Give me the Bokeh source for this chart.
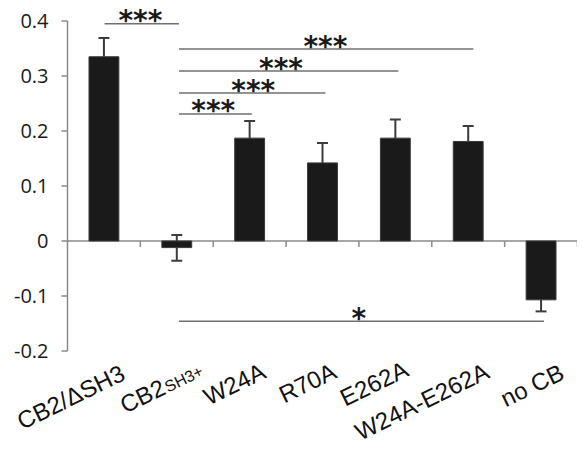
import math
from bokeh.plotting import figure
from bokeh.models import Range1d, ColumnDataSource
from bokeh.core.properties import value
from bokeh.embed import file_html
from bokeh.resources import INLINE

# ---- data ----
categories = ["CB2/ΔSH3", "CB2SH3+", "W24A", "R70A", "E262A", "W24A-E262A", "no CB"]
label_main = ["CB2/ΔSH3", "CB2", "W24A", "R70A", "E262A", "W24A-E262A", "no CB"]
label_small = ["", "SH3+", "", "", "", "", ""]
means = [0.335, -0.012, 0.187, 0.142, 0.187, 0.181, -0.107]
err_up = [0.034, 0.023, 0.031, 0.036, 0.034, 0.028, 0.0]
err_down = [0.0, 0.024, 0.0, 0.0, 0.0, 0.0, 0.021]
y_ticks = [-0.2, -0.1, 0.0, 0.1, 0.2, 0.3, 0.4]
y_tick_labels = ["-0.2", "-0.1", "0", "0.1", "0.2", "0.3", "0.4"]

sig_x0 = [0.51, 1.53, 1.53, 1.53, 1.53, 1.53]
sig_x1 = [1.53, 5.57, 4.54, 3.54, 2.53, 6.54]
sig_y = [0.395, 0.349, 0.309, 0.269, 0.231, -0.146]
sig_text = ["***", "***", "***", "***", "***", "*"]
sig_text_x = [1.0, 3.54, 2.93, 2.55, 2.0, 4.0]

# ---- layout ----
n = len(categories)
centers = [i + 0.5 for i in range(n)]
W, H = 577, 442
LEFT = 67                      # px position of the value axis
px_x = (W - LEFT) / n
XL = -LEFT / px_x
Y0, Y1 = -0.3664, 0.4373
px_y = H / (Y1 - Y0)

p = figure(width=W, height=H, x_range=Range1d(XL, n), y_range=Range1d(Y0, Y1),
           output_backend="svg", toolbar_location=None,
           x_axis_location=None, y_axis_location=None,
           min_border_left=0, min_border_right=0, min_border_top=0, min_border_bottom=0)
p.grid.visible = False
p.outline_line_color = None
p.background_fill_color = "white"
p.border_fill_color = "white"

axis_col = "#8a8a8a"

# ---- value axis ----
p.segment(x0=[0], x1=[0], y0=[min(y_ticks)], y1=[max(y_ticks)], line_color=axis_col, line_width=1.5)
p.segment(x0=[-6 / px_x] * len(y_ticks), x1=[0] * len(y_ticks), y0=y_ticks, y1=y_ticks,
          line_color=axis_col, line_width=1.5)

# category axis line at zero with boundary ticks
p.segment(x0=[0], x1=[n], y0=[0], y1=[0], line_color=axis_col, line_width=1.5)
bounds = [i + 1 for i in range(n)]
p.segment(x0=bounds, x1=bounds, y0=[0] * n, y1=[-0.011] * n, line_color=axis_col, line_width=1.5)

# error bars
lo = [m - d for m, d in zip(means, err_down)]
hi = [m + u for m, u in zip(means, err_up)]
ecol = "#3c3c3c"
p.segment(x0=centers, x1=centers, y0=lo, y1=hi, line_color=ecol, line_width=2)
cap_x, cap_y = [], []
for c, m, u, d in zip(centers, means, err_up, err_down):
    if u > 0:
        cap_x.append(c); cap_y.append(m + u)
    if d > 0:
        cap_x.append(c); cap_y.append(m - d)
p.segment(x0=[c - 0.075 for c in cap_x], x1=[c + 0.075 for c in cap_x], y0=cap_y, y1=cap_y,
          line_color=ecol, line_width=2)

# bars
p.vbar(x=centers, top=means, bottom=0, width=0.41, fill_color="#1a1a1a", line_color="#3a3a3a", line_width=1)

# ---- rotated category labels ----
ADV = {"C": 722, "B": 667, "2": 556, "/": 278, "Δ": 667, "S": 667, "H": 722, "3": 556, "+": 584,
       "W": 944, "4": 556, "A": 667, "R": 722, "7": 556, "0": 556, "E": 667, "6": 556, "-": 333,
       "n": 556, "o": 556, " ": 278}


def text_w(s, size):
    return sum(ADV.get(ch, 600) for ch in s) * size / 1000.0


ang = math.radians(26.0)
ca, sa = math.cos(ang), math.sin(ang)
BIG, SMALL = 24, 16
end_dx = [19, 24, 14, 12, 11, 19, 21]          # px right of category centre (text end)
end_sy = [371, 367, 369, 369, 367, 369, 370]   # px from top (text end, mid height)

lx, ly, lt, ls = [], [], [], []
for c, m, s, dx, sy in zip(centers, label_main, label_small, end_dx, end_sy):
    ex = LEFT + c * px_x + dx
    ey = sy
    if s:
        shift = 0.358 * (BIG - SMALL)
        sex, sey = ex + shift * sa, ey + shift * ca
        w = text_w(s, SMALL)
        lx.append(sex - w * ca); ly.append(sey + w * sa); lt.append(s); ls.append(f"{SMALL}px")
        ex, ey = ex - (w + 1) * ca, ey + (w + 1) * sa
    w = text_w(m, BIG)
    lx.append(ex - w * ca); ly.append(ey + w * sa); lt.append(m); ls.append(f"{BIG}px")

# same visual angle for every label, written with different whole turns added
turns = [0, 1, -1, 2, 0, 1, -1, 2]
src = ColumnDataSource(dict(
    x=[(v - LEFT) / px_x for v in lx],
    y=[Y1 - v / px_y for v in ly],
    t=lt, s=ls,
    a=[ang + 2 * math.pi * turns[i % len(turns)] for i in range(len(lt))],
))
p.text(x="x", y="y", text="t", angle="a", text_font_size="s", source=src,
       text_align="left", text_baseline="middle", text_font=value("Liberation Sans"),
       text_color="#111111")

# significance lines and stars
p.segment(x0=sig_x0, x1=sig_x1, y0=sig_y, y1=sig_y, line_color="#707070", line_width=1.5)
p.text(x=sig_text_x, y=sig_y, text=sig_text, text_align="center", text_baseline="alphabetic",
       y_offset=-3, text_font=value("DejaVu Sans"), text_font_style="bold",
       text_font_size="28px", text_color="#1a1a1a")

# value-axis tick labels
p.text(x=[(48 - LEFT) / px_x] * len(y_ticks), y=y_ticks, text=y_tick_labels,
       text_align="right", text_baseline="middle", text_font=value("Open Sans"),
       text_font_size="20px", text_color="#1a1a1a")

open("out.html", "w").write(file_html(p, INLINE))
